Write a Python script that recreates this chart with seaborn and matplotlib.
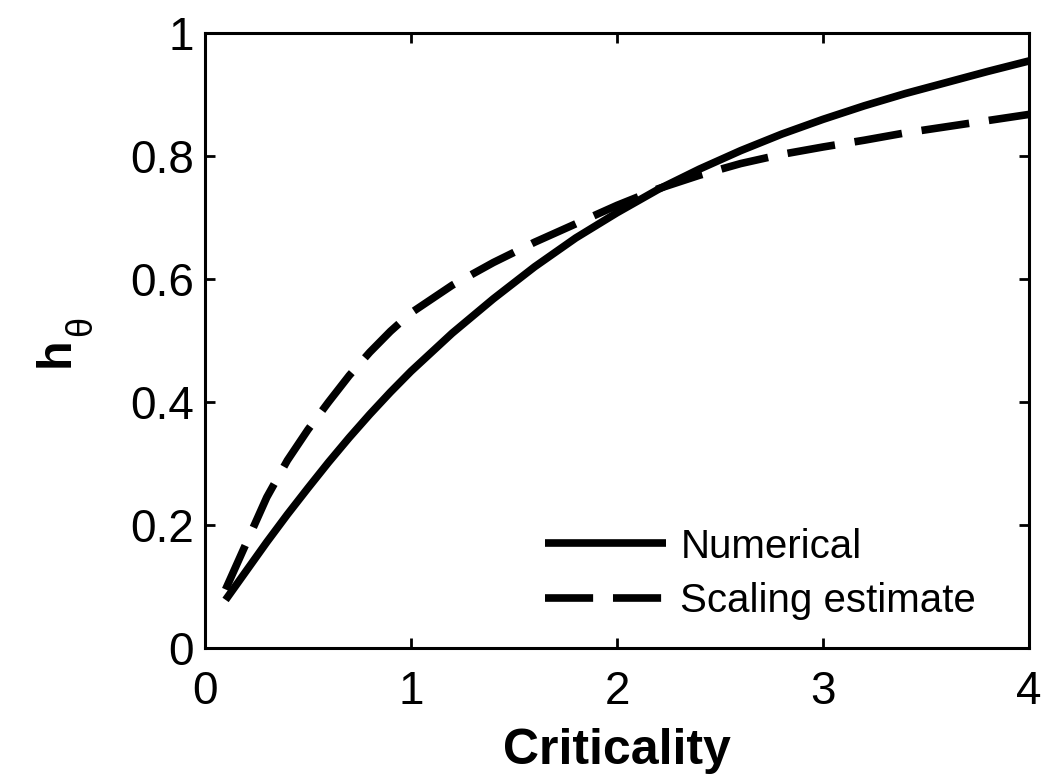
import numpy as np
import pandas as pd
import matplotlib
matplotlib.use("Agg")
import matplotlib.pyplot as plt
import seaborn as sns

# Data
criticality = [0.1, 0.2, 0.3, 0.4, 0.5, 0.6, 0.7, 0.8, 0.9, 1.0, 1.2, 1.4,
               1.6, 1.8, 2.0, 2.2, 2.4, 2.6, 2.8, 3.0, 3.2, 3.4, 3.6, 3.8, 4.0]
numerical = [0.078, 0.125, 0.172, 0.217, 0.260, 0.302, 0.342, 0.380, 0.416,
             0.450, 0.512, 0.568, 0.620, 0.667, 0.708, 0.746, 0.779, 0.809,
             0.836, 0.860, 0.882, 0.902, 0.920, 0.938, 0.955]
scaling = [0.095, 0.170, 0.245, 0.305, 0.355, 0.400, 0.443, 0.481, 0.515,
           0.545, 0.590, 0.627, 0.660, 0.690, 0.720, 0.747, 0.769, 0.788,
           0.803, 0.815, 0.826, 0.838, 0.848, 0.858, 0.868]
series_names = ["Numerical", "Scaling estimate"]
x_ticks = [0, 1, 2, 3, 4]
y_ticks = [0, 0.2, 0.4, 0.6, 0.8, 1.0]
y_tick_labels = ["0", "0.2", "0.4", "0.6", "0.8", "1"]

sns.set_style("ticks")
plt.rcParams["font.family"] = ["Liberation Sans", "DejaVu Sans"]
for key in ["text.color", "axes.labelcolor", "xtick.color", "ytick.color",
            "axes.edgecolor"]:
    plt.rcParams[key] = "black"

df = pd.DataFrame({
    "Criticality": criticality * 2,
    "h": numerical + scaling,
    "Series": [series_names[0]] * len(criticality) + [series_names[1]] * len(criticality),
})

fig = plt.figure(figsize=(10.62, 7.74), dpi=100)
ax = fig.add_axes([0.193, 0.163, 0.776, 0.794])

sns.lineplot(data=df, x="Criticality", y="h", hue="Series", style="Series",
             palette=["black", "black"], dashes=[(None, None), (6.3, 2.6)],
             linewidth=5.5, ax=ax, legend=True)
for ln in ax.get_lines():
    ln.set_solid_capstyle("butt")
    ln.set_dash_capstyle("butt")
    ln.set_solid_joinstyle("round")

ax.set_xlim(0, 4)
ax.set_ylim(0, 1)
ax.set_xticks(x_ticks)
ax.set_xticklabels([str(t) for t in x_ticks])
ax.set_yticks(y_ticks)
ax.set_yticklabels(y_tick_labels)
ax.tick_params(direction="in", length=7, width=2, labelsize=33,
               top=True, right=True)
ax.tick_params(axis="x", pad=16)
ax.tick_params(axis="y", pad=8)
for s in ax.spines.values():
    s.set_visible(True)
    s.set_linewidth(2.2)

ax.set_xlabel("Criticality", fontsize=36, fontweight="bold", labelpad=10)
ax.set_ylabel("h", fontsize=35, fontweight="bold")
ax.yaxis.set_label_coords(-0.153, 0.481)
ax.text(-0.150, 0.5236, "θ", transform=ax.transAxes, rotation=90,
        fontsize=26, ha="center", va="center")

leg = ax.legend(loc="lower right", bbox_to_anchor=(0.97, 0.0), frameon=False,
                fontsize=29, handlelength=3.0, handletextpad=0.35,
                labelspacing=0.4, borderpad=0.2)
for h in leg.get_lines():
    h.set_linewidth(5.5)

fig.savefig("out.png", dpi=100)
